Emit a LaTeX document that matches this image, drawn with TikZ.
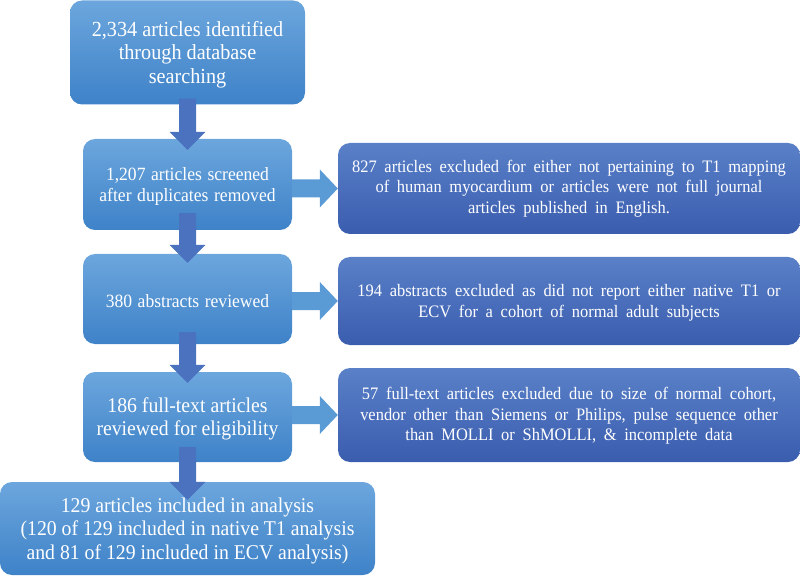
\documentclass[tikz,border=0pt]{standalone}
\usepackage{fontspec}
\setmainfont{Liberation Serif}[FakeStretch=0.94]
\usetikzlibrary{calc}
\definecolor{lbtop}{HTML}{6CA6DD}
\definecolor{lbbot}{HTML}{3E82C8}
\definecolor{rbtop}{HTML}{5A80C8}
\definecolor{rbbot}{HTML}{3A5DAE}
\definecolor{dnc}{HTML}{4A72BF}
\definecolor{rtc}{HTML}{5B9BD5}
\newcommand\widespacing{\spaceskip 0.44em plus 0.1em minus 0.05em\relax}
\newcommand\midspacing{\spaceskip 0.3em plus 0.1em\relax}
\tikzset{
  lbox/.style={rectangle, rounded corners=12pt, top color=lbtop, bottom color=lbbot, draw=none, inner sep=0pt},
  rbox/.style={rectangle, rounded corners=12pt, top color=rbtop, bottom color=rbbot, draw=none, inner sep=0pt,
     minimum width=462pt},
  txt/.style={text=white, align=center, inner sep=0pt},
  rtxt/.style={txt, font={\fontsize{17.5}{20.5}\selectfont\widespacing}},
  bigfont/.style={font={\fontsize{21}{23.5}\selectfont}},
  midfont/.style={font={\fontsize{18.7}{21}\selectfont\midspacing}},
  dnfill/.style={fill=dnc},
  rtfill/.style={fill=rtc}
}
\newcommand\dnarrow[4]{%
  \fill[dnfill] let \p1=(#1.south), \p2=(#2.north) in
   (\x1-8.5pt,\y1+#3pt) -- (\x1+8.5pt,\y1+#3pt) -- (\x1+8.5pt,\y2-#4pt+18pt) -- (\x1+18pt,\y2-#4pt+18pt)
   -- (\x1,\y2-#4pt) -- (\x1-18pt,\y2-#4pt+18pt) -- (\x1-8.5pt,\y2-#4pt+18pt) -- cycle;}
\newcommand\rtarrow[2]{%
  \fill[rtfill] let \p1=(#1.east), \p2=(#2.west) in
   (\x1,\y2+9pt) -- (\x2-18pt,\y2+9pt) -- (\x2-18pt,\y2+19pt) -- (\x2,\y2)
   -- (\x2-18pt,\y2-19pt) -- (\x2-18pt,\y2-9pt) -- (\x1,\y2-9pt) -- cycle;}
\begin{document}
\begin{tikzpicture}[x=1pt,y=-1pt]
\useasboundingbox (0,0) rectangle (800,577);
% boxes
\node[lbox, minimum width=235pt, minimum height=104pt] (b1) at (187.5,52.5) {};
\node[lbox, minimum width=209pt, minimum height=91pt] (b2) at (187.5,184.5) {};
\node[lbox, minimum width=209pt, minimum height=90pt] (b3) at (187.5,299) {};
\node[lbox, minimum width=209pt, minimum height=90pt] (b4) at (187.5,417) {};
\node[lbox, minimum width=375pt, minimum height=93pt] (b5) at (187.5,528.5) {};
\node[rbox, minimum height=91pt] (r1) at (569,188.5) {};
\node[rbox, minimum height=88pt] (r2) at (569,301) {};
\node[rbox, minimum height=94pt] (r3) at (569,415) {};
% texts
\node[txt, font={\fontsize{21.5}{23.5}\selectfont}] (t1) at ($(b1.center)+(0,2)$)
  {2,334 articles identified\\ through database\\ searching};
\node[txt, midfont] (t2) at ($(b2.center)+(0,2)$)
  {1,207 articles screened\\ after duplicates removed};
\node[txt, midfont] (t3) at ($(b3.center)+(0,2)$)
  {380 abstracts reviewed};
\node[txt, bigfont] (t4) at ($(b4.center)+(0,2)$)
  {186 full-text articles\\ reviewed for eligibility};
\node[txt, bigfont] (t5) at ($(b5.center)+(0,2)$)
  {129 articles included in analysis\\ (120 of 129 included in native T1 analysis\\ and 81 of 129 included in ECV analysis)};
\node[rtxt] (s1) at ($(r1.center)+(0,0)$)
  {827 articles excluded for either not pertaining to T1 mapping\\ of human myocardium or articles were not full journal\\ articles published in English.};
\node[rtxt] (s2) at ($(r2.center)+(0,2)$)
  {194 abstracts excluded as did not report either native T1 or\\ ECV for a cohort of normal adult subjects};
\node[rtxt] (s3) at ($(r3.center)+(0,1)$)
  {57 full-text articles excluded due to size of normal cohort,\\ vendor other than Siemens or Philips, pulse sequence other\\ than MOLLI or ShMOLLI, \& incomplete data};
% arrows
\dnarrow{b1}{b2}{6}{11}
\dnarrow{b2}{b3}{17}{9}
\dnarrow{b3}{b4}{12}{11}
\dnarrow{b4}{b5}{15}{18}
\rtarrow{b2}{r1}
\rtarrow{b3}{r2}
\rtarrow{b4}{r3}
\end{tikzpicture}
\end{document}
